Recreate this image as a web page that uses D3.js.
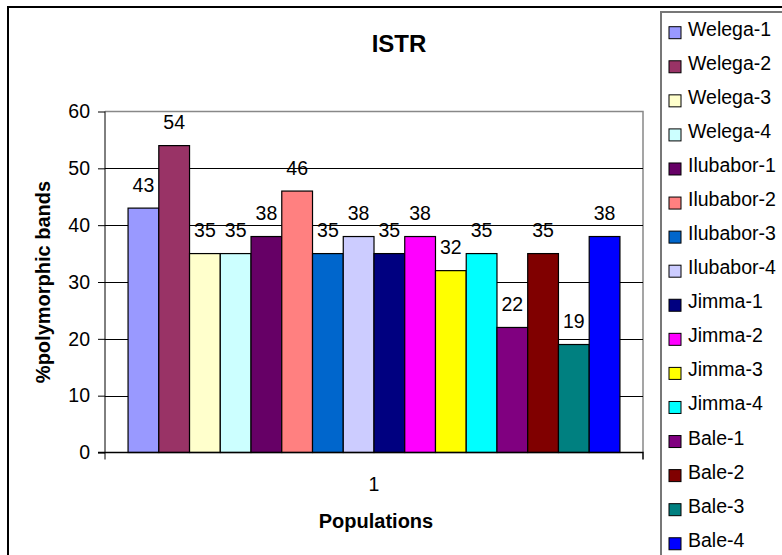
<!DOCTYPE html>
<html>
<head>
<meta charset="utf-8">
<script src="https://cdn.jsdelivr.net/npm/d3@7"></script>
<style>
    body { margin: 0; background: #fff; }
    text { font-family: Arial, 'Liberation Sans', sans-serif; fill: #000; }
</style>
</head>
<body>
<div id="canvas"></div>
<script>
// chart values
let categories = ['1']
let series = ['Welega-1', 'Welega-2', 'Welega-3', 'Welega-4',
    'Ilubabor-1', 'Ilubabor-2', 'Ilubabor-3', 'Ilubabor-4',
    'Jimma-1', 'Jimma-2', 'Jimma-3', 'Jimma-4',
    'Bale-1', 'Bale-2', 'Bale-3', 'Bale-4']
let values = [43, 54, 35, 35, 38, 46, 35, 38, 35, 38, 32, 35, 22, 35, 19, 38]
let colors = ['#9999FF', '#993366', '#FFFFCC', '#CCFFFF',
    '#660066', '#FF8080', '#0066CC', '#CCCCFF',
    '#000080', '#FF00FF', '#FFFF00', '#00FFFF',
    '#800080', '#800000', '#008080', '#0000FF']
let yTicks = [0, 10, 20, 30, 40, 50, 60]

let width = 782
let height = 555
let plot = {left: 105, right: 643, top: 111.5, bottom: 452.5}

let svg = d3.select('#canvas').append('svg')
    .attr('width', width)
    .attr('height', height)

// outer chart border and legend box (run off the page edges)
svg.append('rect')
    .attr('x', 8).attr('y', 7)
    .attr('width', width).attr('height', height)
    .attr('fill', 'none')
    .attr('stroke', '#000')
    .attr('stroke-width', 2)

svg.append('rect')
    .attr('x', 661).attr('y', 12)
    .attr('width', width).attr('height', height)
    .attr('fill', '#fff')
    .attr('stroke', '#777')
    .attr('stroke-width', 2)

let y = d3.scaleLinear()
    .domain([0, 60])
    .range([plot.bottom, plot.top])

let x0 = d3.scaleBand()
    .domain(categories)
    .range([plot.left, plot.right])

let x1 = d3.scaleBand()
    .domain(series)
    .range([0, x0.bandwidth()])
    .paddingOuter(0.75)

// plot frame, gray top and right
svg.append('path')
    .attr('d', 'M' + plot.left + ' ' + y(60) + ' H' + plot.right + ' V' + plot.bottom)
    .attr('fill', 'none')
    .attr('stroke', '#888')
    .attr('stroke-width', 1.5)

// grid lines
svg.append('g')
    .selectAll('line')
    .data(yTicks.filter((d) => d > 0 && d < 60))
    .enter()
    .append('line')
    .attr('x1', plot.left)
    .attr('x2', plot.right)
    .attr('y1', (d) => Math.round(y(d)) + 0.5)
    .attr('y2', (d) => Math.round(y(d)) + 0.5)
    .attr('stroke', '#000')

// bars
let g = svg.append('g')
    .attr('transform', 'translate(' + x0('1') + ',0)')

g.selectAll('rect')
    .data(values)
    .enter()
    .append('rect')
    .attr('x', (d, i) => x1(series[i]))
    .attr('y', (d) => y(d))
    .attr('width', x1.bandwidth())
    .attr('height', (d) => y(0) - y(d))
    .attr('fill', (d, i) => colors[i])
    .attr('stroke', '#000')
    .attr('stroke-width', 1.2)

g.selectAll('text')
    .data(values)
    .enter()
    .append('text')
    .attr('x', (d, i) => x1(series[i]) + x1.bandwidth() / 2)
    .attr('y', (d) => y(d) - 16.5)
    .attr('text-anchor', 'middle')
    .attr('font-size', '19.5px')
    .text((d) => d)

// y axis
let yAxis = svg.append('g')
    .attr('transform', 'translate(' + plot.left + ',0)')
    .call(d3.axisLeft(y).tickValues(yTicks).tickSize(7).tickPadding(8))

yAxis.selectAll('text')
    .attr('font-size', '19.5px')
    .attr('font-family', 'Arial, Liberation Sans, sans-serif')
yAxis.selectAll('line, path').attr('stroke', '#000')
yAxis.select('.domain').attr('d', 'M0 ' + plot.top + ' V' + (plot.bottom + 7))

// x axis
let xAxis = svg.append('g')
    .attr('transform', 'translate(0,' + plot.bottom + ')')
    .call(d3.axisBottom(x0).tickSize(0).tickPadding(25))

xAxis.selectAll('text')
    .attr('font-size', '19.5px')
    .attr('font-family', 'Arial, Liberation Sans, sans-serif')
xAxis.select('.domain')
    .attr('d', 'M' + (plot.left - 7) + ' 0 H' + plot.right + ' V7')
    .attr('stroke', '#000')
    .attr('stroke-width', 1.5)

// titles
svg.append('text')
    .attr('x', 399).attr('y', 52)
    .attr('text-anchor', 'middle')
    .attr('font-size', '24px')
    .attr('font-weight', 'bold')
    .text('ISTR')

svg.append('text')
    .attr('x', 376).attr('y', 528)
    .attr('text-anchor', 'middle')
    .attr('font-size', '20px')
    .attr('font-weight', 'bold')
    .text('Populations')

svg.append('text')
    .attr('transform', 'translate(50,' + ((plot.top + plot.bottom) / 2) + ') rotate(-90)')
    .attr('text-anchor', 'middle')
    .attr('font-size', '20px')
    .attr('font-weight', 'bold')
    .text('%polymorphic bands')

// legend
let legend = svg.append('g')
    .selectAll('g')
    .data(series)
    .enter()
    .append('g')
    .attr('transform', (d, i) => 'translate(669,' + (35.7 + i * 34.07) + ')')

legend.append('rect')
    .attr('x', 0).attr('y', -9)
    .attr('width', 12).attr('height', 12)
    .attr('fill', (d, i) => colors[i])
    .attr('stroke', '#000')

legend.append('text')
    .attr('x', 19)
    .attr('y', 0)
    .attr('font-size', '19.5px')
    .text((d) => d)
</script>
</body>
</html>
